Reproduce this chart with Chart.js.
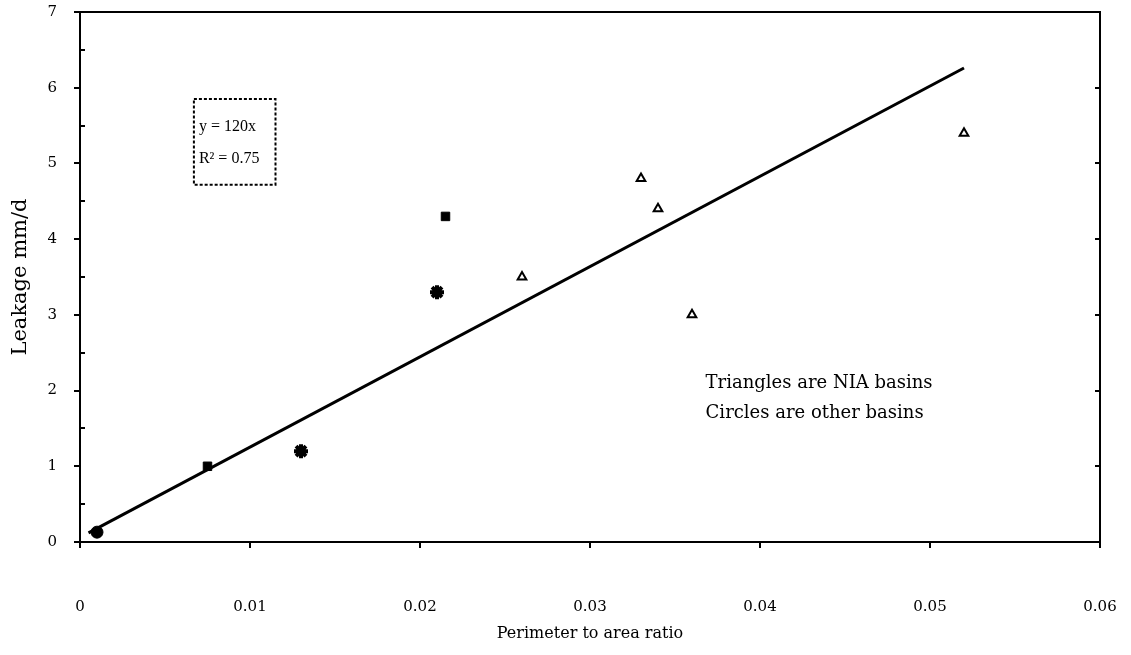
<!DOCTYPE html>
<html>
<head>
<meta charset="utf-8">
<script src="https://cdn.jsdelivr.net/npm/chart.js@4/dist/chart.umd.min.js"></script>
<style>
  html, body { margin: 0; padding: 0; background: #fff; }
  #wrap { width: 1131px; height: 655px; }
</style>
</head>
<body>
<div id="wrap"><canvas id="leakChart"></canvas></div>
<script>
// values
const circlePts = [{ x: 0.001, y: 0.13 }];
const squarePts = [{ x: 0.0075, y: 1.0 }, { x: 0.0215, y: 4.3 }];
const starPts = [{ x: 0.013, y: 1.2 }, { x: 0.021, y: 3.3 }];
const trianglePts = [
    { x: 0.026, y: 3.5 },
    { x: 0.033, y: 4.8 },
    { x: 0.034, y: 4.4 },
    { x: 0.036, y: 3.0 },
    { x: 0.052, y: 5.4 }
];
const fitLine = [{ x: 0.0005, y: 0.12 }, { x: 0.052, y: 6.26 }];

const xTickLabels = ['0', '0.01', '0.02', '0.03', '0.04', '0.05', '0.06'];
const yTickLabels = ['0', '1', '2', '3', '4', '5', '6', '7'];
const yMinorTicks = [0.5, 1.5, 2.5, 3.5, 4.5, 5.5, 6.5];
const fitText = ['y = 120x', 'R\u00B2 = 0.75'];
const noteText = ['Triangles are NIA basins', 'Circles are other basins'];

const serif = '"Liberation Serif", "DejaVu Serif", serif';
const wide = '"DejaVu Serif", serif';

// frame, minor ticks, equation box and note
const extras = {
    id: 'extras',
    afterDraw(chart) {
        const ctx = chart.ctx;
        const a = chart.chartArea;
        const xs = chart.scales.x, ys = chart.scales.y;
        ctx.save();
        ctx.strokeStyle = '#000';
        ctx.lineWidth = 2;
        ctx.beginPath();
        ctx.moveTo(a.left, a.top);
        ctx.lineTo(a.right, a.top);
        ctx.lineTo(a.right, a.bottom);
        ctx.stroke();

        ctx.beginPath();
        yMinorTicks.forEach(v => {
            const py = Math.round(ys.getPixelForValue(v));
            ctx.moveTo(a.left, py);
            ctx.lineTo(a.left + 5, py);
        });
        ys.ticks.forEach(t => {
            const py = Math.round(ys.getPixelForValue(t.value));
            ctx.moveTo(a.right, py);
            ctx.lineTo(a.right - 5, py);
        });
        ctx.stroke();

        // equation box
        const bx = xs.getPixelForValue(0.0067), by = ys.getPixelForValue(5.85);
        const bx2 = xs.getPixelForValue(0.0115), by2 = ys.getPixelForValue(4.72);
        ctx.lineWidth = 2;
        ctx.setLineDash([3, 2]);
        ctx.strokeRect(bx, by, bx2 - bx, by2 - by);
        ctx.setLineDash([]);
        ctx.fillStyle = '#000';
        ctx.font = '16px ' + serif;
        ctx.textBaseline = 'middle';
        ctx.textAlign = 'left';
        ctx.fillText(fitText[0], bx + 5, by + 28);
        ctx.fillText(fitText[1], bx + 5, by + 60);

        // note
        ctx.font = '18px ' + wide;
        const nx = xs.getPixelForValue(0.0368);
        ctx.fillText(noteText[0], nx, ys.getPixelForValue(2.09));
        ctx.fillText(noteText[1], nx, ys.getPixelForValue(1.7));
        ctx.restore();
    }
};

const ctx = document.getElementById('leakChart').getContext('2d');
new Chart(ctx, {
    type: 'scatter',
    data: {
        datasets: [
            {
                label: 'Circles',
                data: circlePts,
                pointStyle: 'circle',
                pointRadius: 6,
                backgroundColor: '#000',
                borderColor: '#000'
            },
            {
                label: 'Squares',
                data: squarePts,
                pointStyle: 'rect',
                pointRadius: 6,
                backgroundColor: '#000',
                borderColor: '#000'
            },
            {
                label: 'Stars',
                data: starPts,
                pointStyle: 'star',
                pointRadius: 7,
                borderWidth: 4,
                backgroundColor: '#000',
                borderColor: '#000'
            },
            {
                label: 'Triangles',
                data: trianglePts,
                pointStyle: 'triangle',
                pointRadius: 5,
                borderWidth: 2,
                backgroundColor: '#fff',
                borderColor: '#000'
            },
            {
                type: 'line',
                label: 'Fit',
                data: fitLine,
                borderColor: '#000',
                borderWidth: 3,
                pointRadius: 0,
                fill: false
            }
        ]
    },
    options: {
        responsive: true,
        maintainAspectRatio: false,
        animation: false,
        layout: { padding: { top: 12, right: 31, left: 0, bottom: 0 } },
        plugins: {
            legend: { display: false },
            tooltip: { enabled: false }
        },
        scales: {
            x: {
                type: 'linear',
                min: 0,
                max: 0.06,
                afterFit(scale) {
                    scale.height = 113;
                    scale.paddingLeft = 0;
                    scale.paddingRight = 0;
                },
                border: { display: true, color: '#000', width: 2 },
                grid: { drawOnChartArea: false, drawTicks: true, tickLength: 6, color: '#000', lineWidth: 2 },
                ticks: {
                    stepSize: 0.01,
                    padding: 50,
                    color: '#000',
                    font: { family: wide, size: 15 },
                    callback: (v, i) => xTickLabels[i]
                },
                title: {
                    display: true,
                    text: 'Perimeter to area ratio',
                    color: '#000',
                    font: { family: wide, size: 16 },
                    padding: { top: 0, bottom: 12 }
                }
            },
            y: {
                min: 0,
                max: 7,
                afterFit(scale) {
                    scale.width = 80;
                    scale.paddingTop = 0;
                    scale.paddingBottom = 0;
                },
                border: { display: true, color: '#000', width: 2 },
                grid: { drawOnChartArea: false, drawTicks: true, tickLength: 6, color: '#000', lineWidth: 2 },
                ticks: {
                    stepSize: 1,
                    padding: 17,
                    color: '#000',
                    font: { family: wide, size: 15 },
                    callback: (v, i) => yTickLabels[i]
                },
                title: {
                    display: true,
                    text: 'Leakage mm/d',
                    color: '#000',
                    font: { family: wide, size: 21 },
                    padding: { top: 8, bottom: 0 }
                }
            }
        }
    },
    plugins: [extras]
});
</script>
</body>
</html>
